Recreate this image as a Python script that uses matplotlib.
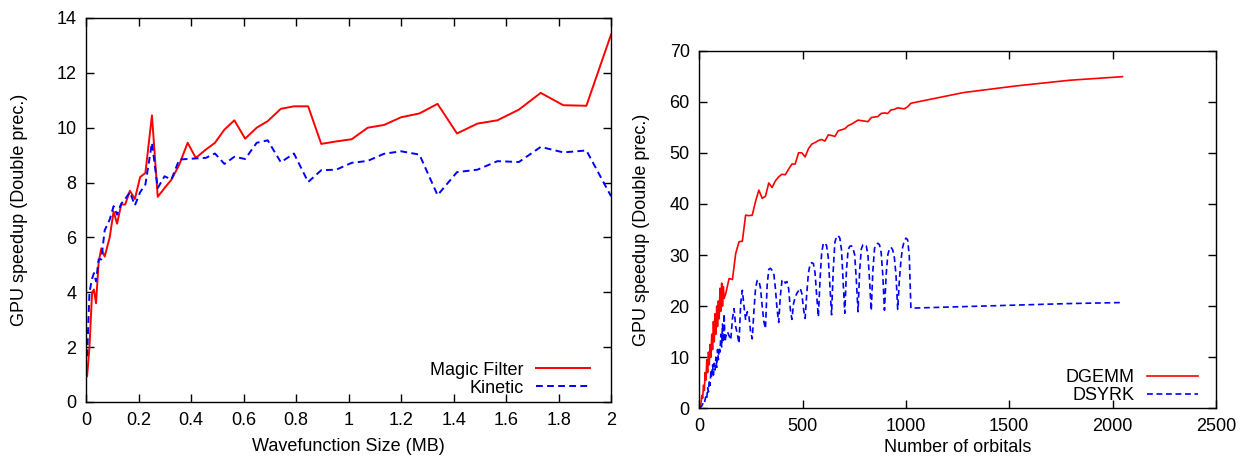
import matplotlib
matplotlib.use("Agg")
import matplotlib.pyplot as plt
from matplotlib.ticker import FuncFormatter

plt.rcParams['font.family'] = ['Liberation Sans', 'DejaVu Sans']
plt.rcParams['font.size'] = 13

# left panel: speedup vs wavefunction size
wf_size = [0.004, 0.013, 0.023, 0.03, 0.038, 0.048, 0.058, 0.071, 0.09, 0.105,
           0.118, 0.134, 0.149, 0.167, 0.186, 0.206, 0.226, 0.251, 0.273, 0.299,
           0.325, 0.355, 0.387, 0.418, 0.456, 0.491, 0.527, 0.565, 0.606, 0.65,
           0.692, 0.742, 0.792, 0.846, 0.896, 0.953, 1.012, 1.073, 1.135, 1.2,
           1.27, 1.339, 1.413, 1.491, 1.567, 1.649, 1.732, 1.818, 1.906, 2.0]
magic_filter = [0.94, 2.0, 4.0, 4.1, 3.6, 5.1, 5.6, 5.3, 6.0, 6.95,
                6.5, 7.2, 7.2, 7.7, 7.4, 8.2, 8.35, 10.45, 7.48, 7.8,
                8.1, 8.65, 9.45, 8.9, 9.2, 9.45, 9.93, 10.27, 9.6, 10.0,
                10.24, 10.69, 10.78, 10.78, 9.41, 9.5, 9.58, 10.0, 10.1, 10.38,
                10.52, 10.87, 9.79, 10.15, 10.27, 10.66, 11.27, 10.82, 10.8, 13.4]
kinetic = [1.67, 4.0, 4.5, 4.7, 4.4, 5.2, 5.2, 6.26, 6.65, 7.14,
           6.83, 7.23, 7.4, 7.65, 7.17, 7.65, 7.93, 9.45, 7.8, 8.23,
           8.11, 8.84, 8.86, 8.88, 8.9, 9.06, 8.68, 8.94, 8.86, 9.45,
           9.54, 8.74, 9.06, 8.02, 8.45, 8.47, 8.72, 8.79, 9.05, 9.14,
           9.02, 7.54, 8.38, 8.47, 8.78, 8.75, 9.3, 9.1, 9.17, 7.5]

# right panel: speedup vs number of orbitals
dgemm_orb = [4, 8, 12, 16, 20, 24, 28, 32, 36, 40, 44, 48, 52, 56, 60, 64,
             68, 72, 76, 80, 84, 88, 92, 96, 100, 104, 108, 112, 116, 120, 124, 128,
             144, 160, 176, 192, 208, 224, 240, 256, 272, 288, 304, 320, 336, 352,
             368, 384, 400, 416, 432, 448, 464, 480, 496, 512, 528, 544, 560, 576,
             592, 608, 624, 640, 656, 672, 688, 704, 720, 736, 752, 768, 784, 800,
             816, 832, 848, 864, 880, 896, 912, 928, 944, 960, 976, 992, 1008, 1024,
             1280, 1536, 1792, 2048]
dgemm = [0.3, 1.0, 2.5, 2.0, 4.5, 3.5, 7.0, 5.5, 9.5, 7.0, 11.0, 8.5, 12.5, 10.0, 14.5, 11.5,
         17.0, 13.0, 18.5, 14.5, 20.0, 16.0, 21.0, 17.5, 23.5, 19.0, 24.5, 20.0, 23.8, 21.5, 22.0, 22.5,
         25.4, 25.2, 30.3, 32.6, 32.7, 37.8, 37.7, 37.8, 40.5, 42.7, 41.1, 41.5, 44.1, 43.2,
         44.5, 45.3, 45.8, 45.7, 46.8, 47.8, 47.8, 50.0, 50.0, 49.2, 50.8, 51.7, 52.0, 52.4,
         52.6, 52.3, 53.5, 53.4, 53.2, 54.3, 54.5, 54.7, 55.3, 55.6, 56.0, 56.4, 56.3, 56.2,
         56.1, 56.9, 57.0, 57.1, 57.7, 57.8, 57.7, 58.4, 58.5, 58.8, 58.7, 58.6, 59.0, 59.7,
         61.8, 63.1, 64.2, 64.9]

dsyrk_orb = [4, 8, 12, 16, 20, 24, 28, 32, 36, 40, 44, 48, 52, 56, 60, 64,
             68, 72, 76, 80, 84, 88, 92, 96, 100, 104, 108, 112, 116, 120, 124, 128,
             136, 144, 152, 160, 168, 176, 184,
             192, 200, 208, 216, 224, 232, 240, 248,
             256, 264, 272, 280, 288, 296, 304, 312,
             320, 328, 336, 344, 352, 360, 368, 376,
             384, 392, 400, 408, 416, 424, 432, 440,
             448, 456, 464, 472, 480, 488, 496, 504,
             512, 520, 528, 536, 544, 552, 560, 568,
             576, 584, 592, 600, 608, 616, 624, 632,
             640, 648, 656, 664, 672, 680, 688, 696,
             704, 712, 720, 728, 736, 744, 752, 760,
             768, 776, 784, 792, 800, 808, 816, 824,
             832, 840, 848, 856, 864, 872, 880, 888,
             896, 904, 912, 920, 928, 936, 944, 952,
             960, 968, 976, 984, 992, 1000, 1008, 1016,
             1024, 1280, 1536, 1792, 2048]
dsyrk = [0.0, 0.3, 0.5, 0.8, 1.2, 1.0, 1.8, 2.5, 2.0, 4.0, 3.2, 5.5, 4.5, 7.5, 6.0, 8.5,
         6.5, 8.8, 7.5, 10.0, 8.0, 11.5, 9.5, 12.0, 11.0, 14.5, 12.0, 16.5, 13.0, 18.5, 13.0, 14.0,
         15.0, 14.2, 13.4, 17.5, 19.5, 16.0, 14.5,
         12.7, 20.5, 23.1, 20.0, 17.3, 18.9, 18.0, 15.0,
         13.6, 19.0, 23.5, 25.0, 25.0, 23.5, 20.0, 17.0,
         15.6, 24.0, 27.2, 27.4, 27.0, 26.5, 23.5, 19.5,
         16.8, 22.0, 25.0, 25.2, 24.5, 24.8, 23.5, 19.5,
         17.4, 20.5, 21.8, 22.5, 23.0, 23.5, 22.5, 19.5,
         17.6, 22.5, 26.5, 28.2, 28.5, 28.3, 26.5, 22.0,
         17.9, 25.0, 30.5, 32.2, 32.4, 31.8, 29.5, 24.0,
         18.3, 27.0, 32.5, 33.6, 33.8, 33.3, 31.0, 25.0,
         18.6, 27.0, 31.0, 31.7, 31.8, 31.3, 30.0, 25.0,
         18.9, 27.0, 31.2, 32.0, 32.1, 31.8, 30.0, 25.0,
         19.1, 27.0, 31.3, 32.1, 32.3, 32.0, 30.5, 26.0,
         19.2, 26.0, 30.0, 31.2, 31.5, 31.0, 29.5, 26.0,
         19.4, 25.0, 29.0, 31.5, 32.8, 33.3, 33.0, 30.0,
         19.6, 19.9, 20.2, 20.5, 20.7]

fig = plt.figure(figsize=(12.4, 4.58), dpi=100)
ax1 = fig.add_axes([0.0694, 0.1223, 0.4234, 0.8384])
ax2 = fig.add_axes([0.564, 0.1085, 0.4165, 0.781])

ax1.plot(wf_size, magic_filter, color='#ff0000', lw=1.4, label='Magic Filter')
ax1.plot(wf_size, kinetic, color='#0000ff', lw=1.4, ls=(0, (3.5, 2.2)), label='Kinetic')
ax1.set_xlim(0, 2)
ax1.set_ylim(0, 14)
ax1.set_xticks([0, 0.2, 0.4, 0.6, 0.8, 1, 1.2, 1.4, 1.6, 1.8, 2])
ax1.set_yticks(range(0, 15, 2))
ax1.xaxis.set_major_formatter(FuncFormatter(lambda v, p: '%g' % v))
ax1.set_xlabel('Wavefunction Size (MB)', labelpad=7)
ax1.set_ylabel('GPU speedup (Double prec.)', labelpad=20)

ax2.plot(dgemm_orb, dgemm, color='#ff0000', lw=1.2, label='DGEMM')
ax2.plot(dsyrk_orb, dsyrk, color='#0000ff', lw=1.2, ls=(0, (3.5, 2.2)), label='DSYRK')
ax2.set_xlim(0, 2500)
ax2.set_ylim(0, 70)
ax2.set_xticks(range(0, 2501, 500))
ax2.set_yticks(range(0, 71, 10))
ax2.set_xlabel('Number of orbitals', labelpad=3)
ax2.set_ylabel('GPU speedup (Double prec.)', labelpad=14)

for ax in (ax1, ax2):
    ax.tick_params(direction='in', top=True, right=True, length=6, width=1, pad=7)
    for s in ax.spines.values():
        s.set_linewidth(1.0)

ax1.legend(loc='lower right', bbox_to_anchor=(0.96, 0.014), frameon=False,
           markerfirst=False, handlelength=3.0, handletextpad=0.7,
           labelspacing=0.05, borderpad=0, borderaxespad=0)
ax2.legend(loc='lower right', bbox_to_anchor=(0.965, 0.012), frameon=False,
           markerfirst=False, handlelength=2.8, handletextpad=0.7,
           labelspacing=0.05, borderpad=0, borderaxespad=0)

fig.savefig('out.png', dpi=100)
